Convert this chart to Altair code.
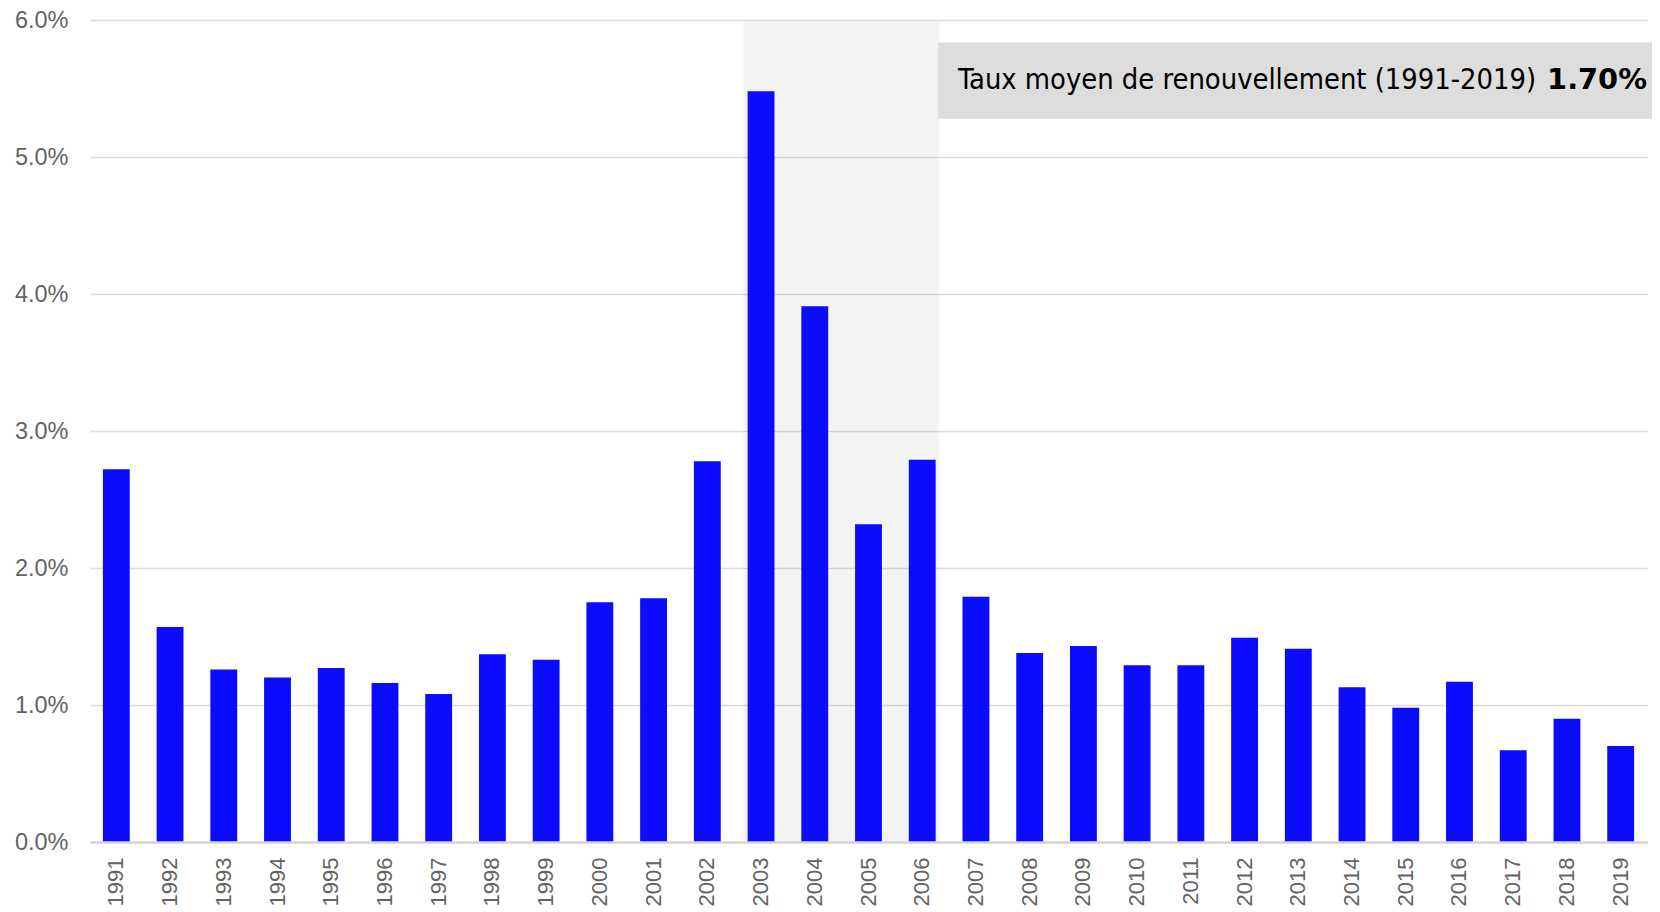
import altair as alt
import pandas as pd

years = [str(y) for y in range(1991, 2020)]
rates = [2.72, 1.57, 1.26, 1.20, 1.27, 1.16, 1.08, 1.37, 1.33, 1.75,
         1.78, 2.78, 5.48, 3.91, 2.32, 2.79, 1.79, 1.38, 1.43, 1.29,
         1.29, 1.49, 1.41, 1.13, 0.98, 1.17, 0.67, 0.90, 0.70]
y_ticks = [0, 1, 2, 3, 4, 5, 6]

highlight_start = ["2003"]
highlight_end = ["2006"]
label_main = ["Taux moyen de renouvellement (1991-2019)"]
label_bold = ["1.70%"]

W, H = 1557, 822

bars_df = pd.DataFrame({"year": years, "rate": rates})
shade_df = pd.DataFrame({"start": highlight_start, "end": highlight_end,
                         "top": [5.99], "bottom": [0.0]})
box_df = pd.DataFrame({"anchor": highlight_end, "top": [5.835], "bottom": [5.28],
                       "ty": [5.497], "main": label_main, "bold": label_bold})

xscale = alt.Scale(domain=years, paddingInner=0.5, paddingOuter=0.24)
yscale = alt.Scale(domain=[0, 6], nice=False)

x_axis = alt.Axis(labelAngle=270, labelFontSize=22, labelFont="Liberation Sans",
                  labelColor="#636363", labelPadding=15, ticks=False,
                  domain=True, domainColor="#d4d4d4", domainWidth=2.5,
                  grid=False, title=None)
y_axis = alt.Axis(values=y_ticks, labelExpr="format(datum.value, '.1f') + '%'",
                  labelFontSize=23.5, labelFont="Liberation Sans", labelColor="#636363",
                  labelPadding=22, ticks=False, domain=False, grid=True,
                  gridColor="#dcdcdc", gridWidth=1.6, title=None)

shade = alt.Chart(shade_df).mark_rect(
    color="#000000", opacity=0.045, xOffset=-4, x2Offset=3.5
).encode(
    x=alt.X("start:N", scale=xscale, bandPosition=0, axis=x_axis, title=None),
    x2=alt.X2("end:N", bandPosition=1),
    y=alt.Y("top:Q", scale=yscale, axis=y_axis, title=None),
    y2="bottom:Q",
)

bars = alt.Chart(bars_df).mark_bar(color="#0b0bff").encode(
    x=alt.X("year:N", scale=xscale, sort=years, title=None, axis=x_axis),
    y=alt.Y("rate:Q", scale=yscale, title=None, axis=y_axis),
)

box = alt.Chart(box_df).mark_rect(color="#dddddd", xOffset=2.3).encode(
    x=alt.X("anchor:N", scale=xscale, bandPosition=1, axis=x_axis, title=None),
    x2=alt.value(W + 13),
    y=alt.Y("top:Q", scale=yscale, axis=y_axis, title=None),
    y2="bottom:Q",
)

text_main = alt.Chart(box_df).mark_text(
    align="left", baseline="alphabetic", font="DejaVu Sans Condensed",
    fontSize=28.8, color="#000000", xOffset=22.3
).encode(
    x=alt.X("anchor:N", scale=xscale, bandPosition=1, axis=x_axis, title=None),
    y=alt.Y("ty:Q", scale=yscale, axis=y_axis, title=None),
    text="main:N",
)

text_bold = alt.Chart(box_df).mark_text(
    align="right", baseline="alphabetic", font="DejaVu Sans",
    fontSize=28.8, fontWeight="bold", color="#000000"
).encode(
    x=alt.value(W),
    y=alt.Y("ty:Q", scale=yscale, axis=y_axis, title=None),
    text="bold:N",
)

chart = alt.layer(shade, bars, box, text_main, text_bold).properties(
    width=W, height=H,
    autosize=alt.AutoSizeParams(type="none"),
    padding={"left": 82, "top": 12, "right": 5, "bottom": 66},
).configure(background="white").configure_view(stroke=None)

chart.save("out.html", embed_options={"renderer": "svg", "actions": False})
